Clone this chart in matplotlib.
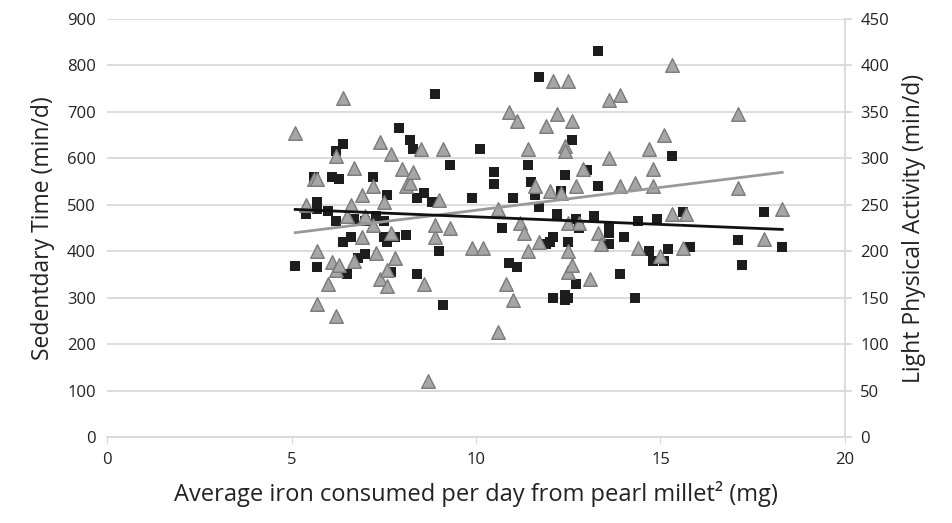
import matplotlib
matplotlib.use("Agg")
import matplotlib.pyplot as plt
import numpy as np

plt.rcParams['font.family'] = ['Open Sans', 'DejaVu Sans']

# sedentary time (left axis, min/d)
sed_x = [5.1, 5.4, 5.6, 5.7, 5.7, 5.7, 6.0, 6.1, 6.2, 6.2, 6.3, 6.4, 6.4, 6.5, 6.6,
         6.7, 6.8, 7.0, 7.0, 7.2, 7.3, 7.5, 7.5, 7.6, 7.6, 7.7, 7.8, 7.9, 8.1, 8.2,
         8.3, 8.4, 8.4, 8.6, 8.8, 8.9, 9.0, 9.1, 9.3, 9.9, 10.1, 10.5, 10.5, 10.7,
         10.9, 11.0, 11.1, 11.4, 11.5, 11.6, 11.7, 11.7, 11.9, 12.0, 12.1, 12.1,
         12.2, 12.3, 12.4, 12.4, 12.4, 12.5, 12.5, 12.6, 12.7, 12.7, 12.8, 13.0,
         13.2, 13.3, 13.3, 13.6, 13.6, 13.6, 13.9, 14.0, 14.3, 14.4, 14.7, 14.8,
         14.9, 15.1, 15.2, 15.3, 15.6, 15.8, 17.1, 17.2, 17.8, 18.3]
sed_y = [368, 480, 560, 365, 505, 490, 487, 560, 465, 615, 555, 630, 420, 350, 430,
         470, 385, 465, 395, 560, 475, 430, 465, 520, 420, 355, 430, 665, 435, 640,
         620, 350, 515, 525, 505, 738, 400, 285, 585, 515, 620, 545, 570, 450,
         375, 515, 365, 585, 550, 520, 775, 495, 415, 420, 300, 430,
         480, 530, 565, 305, 295, 300, 420, 640, 470, 330, 450, 575,
         475, 830, 540, 440, 450, 415, 350, 430, 300, 465, 400, 380,
         470, 380, 405, 605, 485, 410, 425, 370, 485, 410]

# light physical activity (right axis, min/d)
lpa_x = [5.1, 5.4, 5.6, 5.7, 5.7, 5.7, 6.0, 6.1, 6.2, 6.2, 6.2, 6.3, 6.4, 6.5, 6.6,
         6.7, 6.7, 6.9, 6.9, 7.0, 7.2, 7.2, 7.3, 7.4, 7.4, 7.5, 7.6, 7.6, 7.7, 7.7,
         7.8, 8.0, 8.1, 8.2, 8.3, 8.5, 8.6, 8.7, 8.9, 8.9, 9.0, 9.1, 9.3, 9.9, 10.2,
         10.6, 10.6, 10.8, 10.9, 11.0, 11.1, 11.2, 11.3, 11.4, 11.4, 11.6, 11.7,
         11.9, 12.0, 12.1, 12.2, 12.3, 12.4, 12.4, 12.5, 12.5, 12.5, 12.5, 12.6,
         12.6, 12.7, 12.8, 12.9, 13.1, 13.3, 13.4, 13.6, 13.6, 13.9, 13.9, 14.3,
         14.4, 14.7, 14.8, 14.8, 15.0, 15.1, 15.3, 15.3, 15.6, 15.7, 17.1, 17.1,
         17.8, 18.3]
lpa_y = [327, 250, 278, 200, 278, 143, 165, 188, 130, 303, 180, 185, 365, 238, 250,
         290, 190, 260, 215, 238, 270, 228, 198, 318, 170, 253, 163, 180, 220, 305,
         193, 288, 270, 273, 285, 310, 165, 60, 215, 228, 255, 310, 225, 203, 203,
         113, 245, 165, 350, 148, 340, 230, 220, 310, 200, 270, 210,
         335, 265, 383, 348, 263, 313, 308, 383, 200, 178, 230, 185,
         340, 270, 230, 288, 170, 220, 208, 363, 300, 368, 270, 273,
         203, 310, 288, 270, 195, 325, 400, 240, 203, 240, 348, 268,
         213, 245]

# linear trend lines (slope, intercept)
sed_fit = (-3.26, 506.6)
lpa_fit = (4.92, 194.9)

fig = plt.figure(figsize=(9.52, 5.23), dpi=100)
ax = fig.add_axes([0.1124, 0.1644, 0.7752, 0.7993])
ax2 = ax.twinx()

grid_col = '#d9d9d9'
ax.set_xlim(0, 20)
ax.set_ylim(0, 900)
ax2.set_ylim(0, 450)
ax.set_xticks([0, 5, 10, 15, 20])
ax.set_yticks(range(0, 901, 100))
ax2.set_yticks(range(0, 451, 50))
ax.yaxis.grid(True, color=grid_col, linewidth=1.3)
ax.set_axisbelow(True)

for a in (ax, ax2):
    for s in ('top', 'left'):
        a.spines[s].set_visible(False)
    a.spines['bottom'].set_color(grid_col)
    a.spines['right'].set_color(grid_col)
    a.spines['bottom'].set_linewidth(1.3)
    a.spines['right'].set_linewidth(1.3)
ax.spines['right'].set_visible(False)
ax2.spines['bottom'].set_visible(False)

ax.tick_params(axis='y', length=0, labelsize=12, labelcolor='#222222', pad=8)
ax.tick_params(axis='x', length=5, color=grid_col, labelsize=12, labelcolor='#222222', pad=6)
ax2.tick_params(axis='y', length=5, color=grid_col, width=1.3, labelsize=12, labelcolor='#222222', pad=6)

ax.scatter(sed_x, sed_y, marker='s', s=45, color='#1e1c1d', linewidths=0, zorder=3)
ax2.scatter(lpa_x, lpa_y, marker='^', s=95, facecolor='#a6a6a6', edgecolor='#7a7a7a',
            linewidths=1.0, zorder=3)

# trend lines drawn on top of both marker sets
xs = np.array([min(sed_x), max(sed_x)])
ax2.plot(xs, (sed_fit[0] * xs + sed_fit[1]) / 2, color='#111111', linewidth=2, zorder=5)
xt = np.array([min(lpa_x), max(lpa_x)])
ax2.plot(xt, lpa_fit[0] * xt + lpa_fit[1], color='#999999', linewidth=2, zorder=4)

ax.set_ylabel('Sedentdary Time (min/d)', fontsize=16.5, color='#222222', labelpad=9)
ax2.set_ylabel('Light Physical Activity (min/d)', fontsize=16.5, color='#222222', labelpad=9)
ax.set_xlabel('Average iron consumed per day from pearl millet\u00b2 (mg)', fontsize=17,
              color='#222222', labelpad=9)

fig.savefig('out.png', dpi=100)
